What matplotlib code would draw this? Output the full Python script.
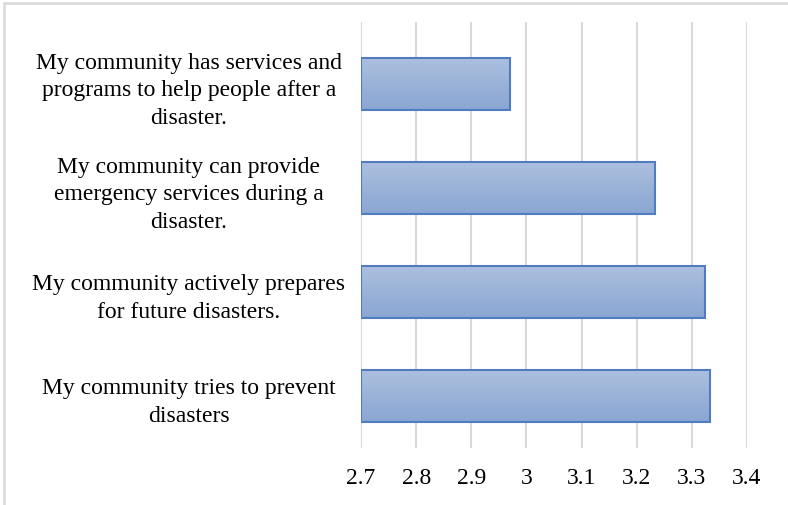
import matplotlib
matplotlib.use("Agg")
import matplotlib.pyplot as plt
import numpy as np
from matplotlib.patches import Rectangle
from matplotlib.colors import LinearSegmentedColormap

categories = [
    "My community has services and\nprograms to help people after a\ndisaster.",
    "My community can provide\nemergency services during a\ndisaster.",
    "My community actively prepares\nfor future disasters.",
    "My community tries to prevent\ndisasters",
]
values = [2.97, 3.234, 3.324, 3.333]
xticks = [2.7, 2.8, 2.9, 3.0, 3.1, 3.2, 3.3, 3.4]
xticklabels = ["2.7", "2.8", "2.9", "3", "3.1", "3.2", "3.3", "3.4"]

W, H = 788, 506
fig = plt.figure(figsize=(W / 100, H / 100), dpi=100)
plt.rcParams['font.family'] = ['Liberation Serif', 'DejaVu Serif']

# outer frame
fig.patches.append(Rectangle((4 / W, -0.2), 1.5, 1.2 - 4 / H, transform=fig.transFigure,
                             fill=False, edgecolor="#D9D9D9", linewidth=1.8, zorder=0))

ax_left, ax_right, ax_top, ax_bottom = 361, 747, 23, 449
ax = fig.add_axes([ax_left / W, (H - ax_bottom) / H, (ax_right - ax_left) / W, (ax_bottom - ax_top) / H])

ypos = np.arange(len(categories))
bars = ax.barh(ypos, [v - 2.7 for v in values], left=2.7, height=0.5,
               color="none", edgecolor="#4F7DBF", linewidth=1.5, zorder=3)

cmap = LinearSegmentedColormap.from_list("g", ["#ACBFDF", "#8AA6D2"])
grad = np.linspace(0, 1, 256).reshape(-1, 1)
for b in bars:
    x0, y0 = b.get_x(), b.get_y()
    w, h = b.get_width(), b.get_height()
    im = ax.imshow(grad, cmap=cmap, aspect="auto", extent=[x0, x0 + w, y0 + h, y0],
                   origin="upper", zorder=2, interpolation="bilinear")
    im.set_clip_path(b)

ax.set_xlim(2.7, 3.4)
ax.set_ylim(3.5, -0.5 - 10 / 104)
ax.set_xticks(xticks)
ax.set_xticklabels(xticklabels, fontsize=17)
ax.set_yticks(ypos)
ax.set_yticklabels(categories, fontsize=17, ha="center", linespacing=1.4)
ax.tick_params(axis="y", length=0, pad=124)
ax.tick_params(axis="x", length=0, pad=14)
ax.xaxis.grid(True, color="#D9D9D9", linewidth=1.5, zorder=0)
ax.set_axisbelow(True)
for s in ax.spines.values():
    s.set_visible(False)

fig.savefig("out.png", dpi=100)
